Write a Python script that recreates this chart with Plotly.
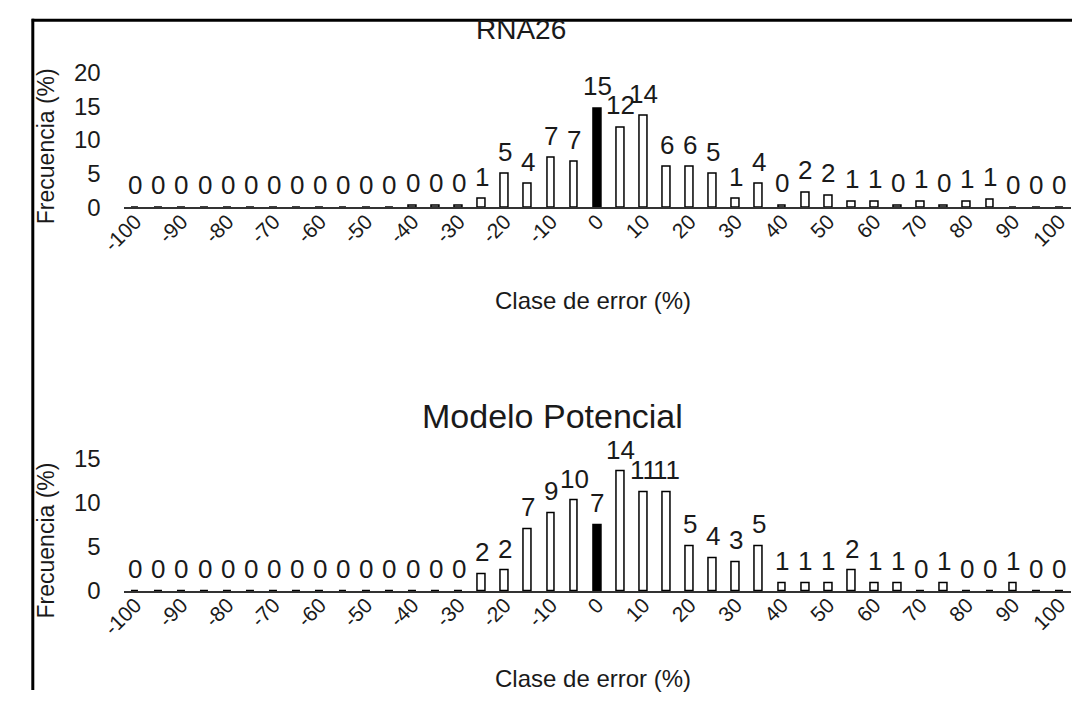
import plotly.graph_objects as go

# ---------------- data ----------------
clases = list(range(-100, 101, 5))  # error classes (%)

rna26 = [0, 0, 0, 0, 0, 0, 0, 0, 0, 0, 0, 0,
         0.3, 0.3, 0.3, 1.3, 5.0, 3.5, 7.3, 6.8,
         14.7,
         11.9, 13.6, 6.0, 6.0, 5.0, 1.3, 3.5, 0.3, 2.2, 1.8,
         0.9, 0.9, 0.3, 0.9, 0.3, 0.9, 1.2, 0, 0, 0]

potencial = [0, 0, 0, 0, 0, 0, 0, 0, 0, 0, 0, 0, 0, 0, 0,
             1.9, 2.3, 7.0, 8.8, 10.2,
             7.4,
             13.5, 11.2, 11.2, 5.1, 3.7, 3.3, 5.1, 0.9, 0.9, 0.9,
             2.3, 0.9, 0.9, 0, 0.9, 0, 0, 0.9, 0, 0]

tick_vals = list(range(-100, 101, 10))
tick_text = [str(v) for v in tick_vals]

titles = ["RNA26", "Modelo Potencial"]
x_title = "Clase de error (%)"
y_title = "Frecuencia (%)"

# ---------------- layout helpers ----------------
W, H = 1072, 703
FONT = "Liberation Sans, Arial, sans-serif"
TXT = "#1a1a1a"

def px_x(p):
    return p / W

def px_y(p):
    return 1 - p / H

x_dom = [px_x(102), px_x(1071)]
panels = [
    dict(data=rna26, ydom=[px_y(201), px_y(61)], yr=[0, 20], yt=[0, 5, 10, 15, 20],
         title_y=16, title_x=508, title_size=28, xt_y=298, yt_y=138),
    dict(data=potencial, ydom=[px_y(600), px_y(462)], yr=[0, 15], yt=[0, 5, 10, 15],
         title_y=418, title_x=541, title_size=34, xt_y=691, yt_y=548),
]

fig = go.Figure()
annotations = []

for i, p in enumerate(panels):
    xa = "x" if i == 0 else "x2"
    ya = "y" if i == 0 else "y2"
    colors = ["black" if c == 0 else "white" for c in clases]
    fig.add_trace(go.Bar(
        x=clases, y=p["data"], xaxis=xa, yaxis=ya,
        width=1.7,
        marker=dict(color=colors, line=dict(color="black", width=1.5)),
        showlegend=False, cliponaxis=False, hoverinfo="x+y",
    ))
    for c, v in zip(clases, p["data"]):
        annotations.append(dict(
            x=c, y=v, xref=xa, yref=ya, text=str(int(v + 0.5)),
            showarrow=False, yanchor="bottom", xanchor="center", yshift=5,
            font=dict(family=FONT, size=26, color=TXT),
        ))
    # chart title
    annotations.append(dict(
        x=px_x(p["title_x"]), y=px_y(p["title_y"]), xref="paper", yref="paper",
        text=titles[i], showarrow=False, xanchor="center", yanchor="middle",
        font=dict(family=FONT, size=p["title_size"], color=TXT),
    ))
    # x axis title
    annotations.append(dict(
        x=px_x(582), y=px_y(p["xt_y"]), xref="paper", yref="paper",
        text=x_title, showarrow=False, xanchor="center", yanchor="middle",
        font=dict(family=FONT, size=24, color=TXT),
    ))
    # y axis title
    annotations.append(dict(
        x=px_x(22), y=px_y(p["yt_y"]), xref="paper", yref="paper",
        text=y_title, showarrow=False, xanchor="center", yanchor="middle",
        textangle=-90, font=dict(family=FONT, size=23, color=TXT),
    ))

    axis_x = dict(
        domain=x_dom, range=[-102.5, 102.5], tickmode="array",
        tickvals=tick_vals, ticktext=tick_text, tickangle=-45,
        showline=True, linecolor="#333", linewidth=1.5, showgrid=False,
        zeroline=False, ticks="", ticklabelstandoff=-8,
        tickfont=dict(family=FONT, size=21, color=TXT),
        anchor=ya, fixedrange=True,
    )
    axis_y = dict(
        domain=p["ydom"], range=p["yr"], tickmode="array", tickvals=p["yt"],
        showline=False, showgrid=False, zeroline=False, ticks="",
        ticklabelstandoff=22, tickfont=dict(family=FONT, size=24, color=TXT),
        anchor=xa, fixedrange=True,
    )
    if i == 0:
        fig.update_layout(xaxis=axis_x, yaxis=axis_y)
    else:
        fig.update_layout(xaxis2=axis_x, yaxis2=axis_y)

# page border lines (left and top)
shapes = [
    dict(type="line", xref="paper", yref="paper", x0=px_x(9), x1=px_x(9),
         y0=0, y1=px_y(5), line=dict(color="black", width=3)),
    dict(type="line", xref="paper", yref="paper", x0=px_x(8), x1=1,
         y0=px_y(6.5), y1=px_y(6.5), line=dict(color="black", width=3)),
]

fig.update_layout(
    width=W, height=H, margin=dict(l=0, r=0, t=0, b=0),
    paper_bgcolor="white", plot_bgcolor="white",
    annotations=annotations, shapes=shapes, bargap=0,
    font=dict(family=FONT, color=TXT),
)

fig.write_html(
    "out.html",
    config={"displayModeBar": False},
    post_script="document.body.style.margin='0';document.body.style.overflow='hidden';",
)
